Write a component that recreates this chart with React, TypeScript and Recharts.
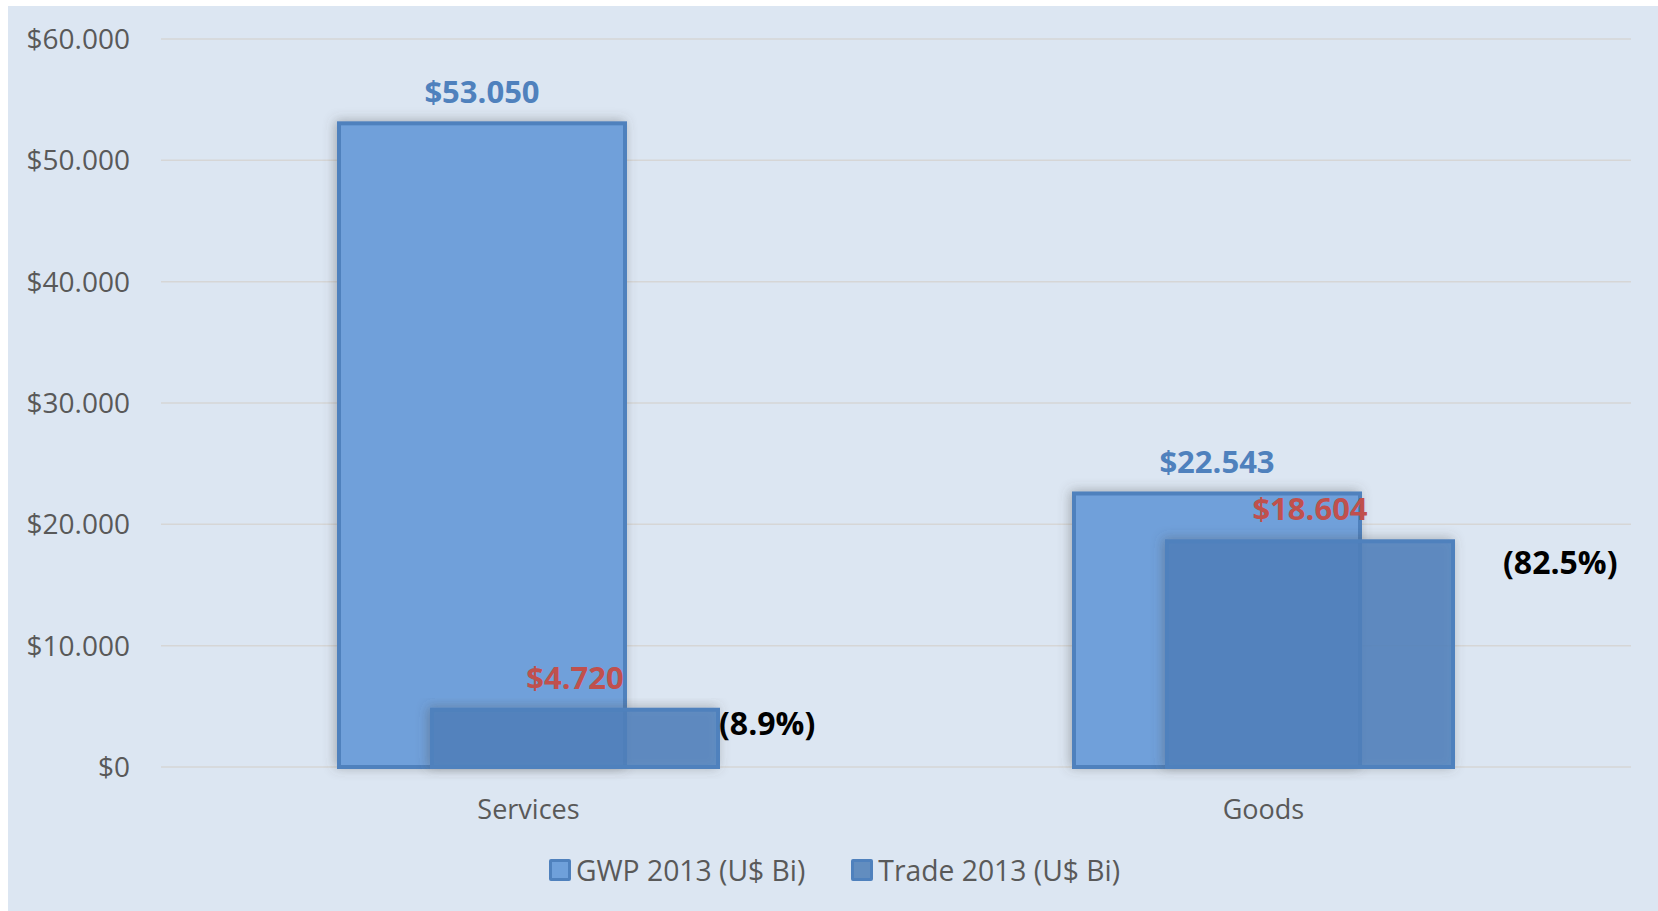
import React from "react";
import { BarChart, Bar, XAxis, YAxis, CartesianGrid, Legend, LabelList } from "recharts";

const categories = ["Services", "Goods"];
const gwp2013 = [53050, 22543];
const trade2013 = [4720, 18604];
const tradeShare = ["(8.9%)", "(82.5%)"];
const yTicks = [0, 10000, 20000, 30000, 40000, 50000, 60000];

const data = categories.map((name, i) => ({
  name,
  gwp: gwp2013[i],
  trade: trade2013[i],
  share: tradeShare[i],
}));

const FONT = "'Open Sans', 'Noto Sans', sans-serif";
const BORDER = "#4F81BD";
const GWP_FILL = "#6FA0DA";
const TRADE_FILL = "#4F81BD";

// thousands with a dot, like the original sheet
const money = (v: number) => "$" + String(Math.round(v)).replace(/\B(?=(\d{3})+(?!\d))/g, ".");

// the share labels were nudged by hand in the original
const shareNudge = [
  { dx: 1, dy: 14 },
  { dx: 50, dy: 22 },
];

const GwpShape = (p: any) => (
  <rect x={p.x} y={p.y} width={p.width} height={p.height} fill={GWP_FILL}
    stroke={BORDER} strokeWidth={4} filter="url(#barShadow)" />
);

const TradeShape = (p: any) => (
  <rect x={p.x} y={p.y} width={p.width} height={p.height} fill={TRADE_FILL}
    fillOpacity={0.84} stroke={BORDER} strokeWidth={4} filter="url(#barShadow)" />
);

const ShareLabel = (p: any) => {
  const i = tradeShare.indexOf(p.value);
  const n = shareNudge[i] || { dx: 10, dy: 16 };
  return (
    <text x={p.x + p.width + n.dx} y={p.y + n.dy} dy="0.35em" textAnchor="start"
      fontFamily={FONT} fontSize={32} fontWeight={700} fill="#000">
      {p.value}
    </text>
  );
};

const LegendBox = () => {
  const items = [
    { label: "GWP 2013 (U$ Bi)", fill: GWP_FILL },
    { label: "Trade 2013 (U$ Bi)", fill: "#628DBF" },
  ];
  return (
    <div style={{ display: "flex", justifyContent: "center", alignItems: "center", height: 60, paddingLeft: 30, gap: 46 }}>
      {items.map((it) => (
        <div key={it.label} style={{ display: "flex", alignItems: "center", gap: 5 }}>
          <span style={{ width: 16, height: 16, background: it.fill, border: `3px solid ${BORDER}`, borderRadius: 2 }} />
          <span style={{ fontFamily: FONT, fontSize: 28.3, color: "#595959" }}>{it.label}</span>
        </div>
      ))}
    </div>
  );
};

export default function App() {
  return (
    <>
      <style>{`body{margin:0;overflow:hidden}`}</style>
      <div style={{ position: "absolute", left: 8, top: 6, width: 1650, height: 905, background: "#DCE6F2" }}>
        <BarChart width={1650} height={905} data={data}
          margin={{ top: 33, right: 27, left: 0, bottom: 11 }}
          barSize={286} barGap={-193}>
          <defs>
            <filter id="barShadow" x="-20%" y="-20%" width="140%" height="140%">
              <feDropShadow dx="-2" dy="-1" stdDeviation="6" floodColor="#505050" floodOpacity="0.4" />
            </filter>
          </defs>
          <CartesianGrid vertical={false} stroke="#D6D6D6" strokeWidth={1.5} />
          <XAxis dataKey="name" axisLine={false} tickLine={false} tickMargin={27} height={73}
            tick={{ fill: "#595959", fontSize: 27, fontFamily: FONT }} />
          <YAxis width={153} domain={[0, 60000]} ticks={yTicks} tickFormatter={money}
            axisLine={false} tickLine={false} tickMargin={25} interval={0}
            tick={{ fill: "#595959", fontSize: 28, fontFamily: FONT }} />
          <Legend verticalAlign="bottom" height={60} content={<LegendBox />} />
          <Bar dataKey="gwp" name="GWP 2013 (U$ Bi)" shape={GwpShape} isAnimationActive={false}>
            <LabelList dataKey="gwp" position="top" offset={20} formatter={(v: any) => money(Number(v))}
              fill={BORDER} fontSize={31} fontWeight={700} fontFamily={FONT} />
          </Bar>
          <Bar dataKey="trade" name="Trade 2013 (U$ Bi)" shape={TradeShape} isAnimationActive={false}>
            <LabelList dataKey="trade" position="top" offset={21} formatter={(v: any) => money(Number(v))}
              fill="#C0504D" fontSize={31} fontWeight={700} fontFamily={FONT} />
            <LabelList dataKey="share" content={<ShareLabel />} />
          </Bar>
        </BarChart>
      </div>
    </>
  );
}
